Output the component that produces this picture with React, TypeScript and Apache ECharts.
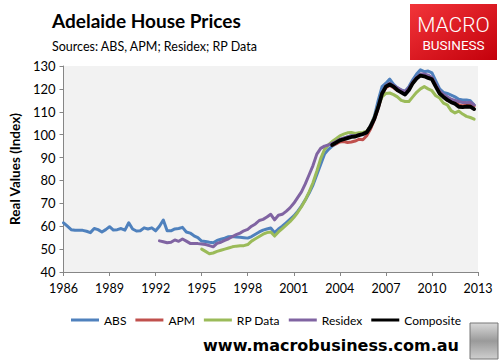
import React, { useEffect, useRef } from "react";
import * as echarts from "echarts";

const START_YEAR = 1986;
const X_TICKS = [1986, 1989, 1992, 1995, 1998, 2001, 2004, 2007, 2010, 2013];

// Quarterly values starting 1986 Q1 (index 0); null = no data
const ABS: (number | null)[] = [
  61.5, 60, 58.5, 58.2, 58.2, 58.2, 57.8, 57.2, 59, 58.5, 57.5, 58.5, 59.8, 58.3, 58.5, 59,
  58.3, 61.5, 58.8, 57.9, 58, 59.3, 58.8, 59.3, 58, 60, 62.7, 58, 58, 58.8, 59, 59.5,
  57.5, 57, 55.8, 55, 53.5, 53.3, 53, 52.8, 53.8, 54.3, 54.8, 55.4, 55.5, 55.3, 55.2, 55,
  54.8, 55.5, 56.5, 57.5, 58.3, 58.8, 59.2, 57.2, 58.8, 60, 61.5, 63, 64.5, 66.5, 68.8, 71.5,
  74.5, 78, 82.5, 87, 91.5, 93.5, 95, 96, 97.5, 98.5, 99, 99.5, 99.5, 100, 100, 101,
  104, 108, 115, 121, 122.5, 124.3, 122, 120.5, 119.5, 119, 121, 124, 126.5, 128.3, 127.5, 127.8,
  127, 123.5, 120, 118.5, 118, 117.3, 116.5, 115.5, 115.2, 115.2, 114.8, 113,
];

const APM_START = 70;
const APM: number[] = [
  95.3, 96, 96.8, 97, 96.6, 96.8, 97.2, 98, 97.8, 99.5, 102.5, 106.5, 111.5, 117.5, 120.5, 121.5,
  120.5, 119.3, 118.8, 118, 120, 122.5, 124.8, 126, 125.5, 125.5, 124.5, 121.5, 118.5, 116.5, 115, 114.5,
  114, 113, 112.5, 113, 113.5, 112.5,
];

const RP_START = 36;
const RP_DATA: number[] = [
  50, 49, 48, 48.3, 49, 49.5, 50, 50.5, 51, 51.3, 51.5, 51.5, 52, 53.5, 54.5, 55.5,
  56.5, 57.2, 57.5, 55.7, 57.5, 59, 60.5, 62, 63.8, 66, 68.5, 71.5, 75, 79, 84, 89.5,
  93.5, 95.5, 97, 98.2, 99.5, 100.2, 100.8, 101, 100.5, 100.8, 101, 101.5, 104, 107.5, 112.5, 116.5,
  118, 118.2, 117.5, 116.5, 115, 114.5, 114.5, 116.5, 118.5, 120, 121, 120, 119.2, 117, 116, 113.8,
  113, 110.5, 109.5, 110.3, 109, 108, 107.5, 106.8,
];

const RESIDEX_START = 25;
const RESIDEX: number[] = [
  53.6, 53.2, 52.8, 53, 54, 53.4, 54.4, 53.5, 52.5, 52.5, 52.4, 52.2, 52, 51.5, 51, 52.5,
  53, 53.8, 54.5, 55.5, 56.3, 57, 58, 58.6, 60, 61, 62.5, 63, 64, 65.2, 62.8, 64.8,
  65.2, 66.5, 68, 70, 72.5, 75, 78.5, 82.5, 86.5, 91.5, 94, 95, 95.5, 96.2, 97, 98,
  98.5, 99, 99.5, 99.5, 100, 100.2, 101, 104, 107, 112, 118, 121.5, 122.5, 121.5, 120.5, 119.5,
  118.8, 120.5, 123, 125, 126.5, 126.5, 126, 125, 122, 119, 117.5, 116.5, 115.5, 115, 114.5, 114,
  114, 114.2, 113,
];

const COMPOSITE_START = 70;
const COMPOSITE: number[] = [
  95.5, 96.5, 97.5, 98, 98.5, 99, 99.2, 99.8, 100.3, 101, 103.5, 107, 112, 118, 121, 122,
  121, 119.5, 118.5, 117.5, 119.5, 122.5, 124.5, 125.8, 125.5, 124.8, 124.2, 121, 118, 116.5, 115.2, 114.2,
  113.5, 112.2, 112, 112.3, 112.2, 111.2,
];

const SERIES_NAMES = ["ABS", "APM", "RP Data", "Residex", "Composite"];
const COLORS = ["#4f81bd", "#c0504d", "#9bbb59", "#8064a2", "#000000"];

function toPairs(values: (number | null)[], startIndex: number) {
  return values.map((v, k) => [START_YEAR + (startIndex + k) / 4, v]);
}

export default function App() {
  const ref = useRef<HTMLDivElement>(null);

  useEffect(() => {
    if (!ref.current) return;
    const chart = echarts.init(ref.current, null, { renderer: "svg" });
    const datasets = [
      toPairs(ABS, 0),
      toPairs(APM, APM_START),
      toPairs(RP_DATA, RP_START),
      toPairs(RESIDEX, RESIDEX_START),
      toPairs(COMPOSITE, COMPOSITE_START),
    ];
    const font = "Lato, 'Liberation Sans', sans-serif";
    chart.setOption({
      animation: false,
      backgroundColor: "#ffffff",
      grid: {
        left: 58,
        right: 26,
        top: 66,
        bottom: 91,
        show: true,
        backgroundColor: "#f2f2f2",
        borderWidth: 0,
      },
      xAxis: {
        type: "value",
        min: 1986,
        max: 2013,
        interval: 3,
        axisLine: { show: true, onZero: false, lineStyle: { color: "#868686", width: 1 } },
        axisTick: { show: true, length: 4, lineStyle: { color: "#868686" } },
        splitLine: { show: false },
        axisLabel: {
          color: "#000",
          fontSize: 12.5,
          fontFamily: font,
          margin: 10,
          formatter: (v: number) => (X_TICKS.includes(v) ? String(v) : ""),
        },
      },
      yAxis: {
        type: "value",
        min: 40,
        max: 130,
        interval: 10,
        name: "Real Values (Index)",
        nameLocation: "middle",
        nameGap: 40,
        nameRotate: 90,
        nameTextStyle: { color: "#000", fontSize: 13.5, fontWeight: "bold", fontFamily: font },
        axisLine: { show: true, lineStyle: { color: "#868686", width: 1 } },
        axisTick: { show: true, length: 4, lineStyle: { color: "#868686" } },
        splitLine: { show: false },
        axisLabel: { color: "#000", fontSize: 13, fontFamily: font, margin: 8 },
      },
      legend: {
        left: 66,
        top: 309,
        itemWidth: 28,
        itemHeight: 3,
        itemGap: 9,
        icon: "rect",
        textStyle: { color: "#000", fontSize: 12, fontFamily: font },
        data: SERIES_NAMES,
      },
      series: SERIES_NAMES.map((name, k) => ({
        name,
        type: "line",
        data: datasets[k],
        showSymbol: false,
        symbol: "none",
        connectNulls: false,
        lineStyle: { color: COLORS[k], width: k === 4 ? 3.8 : 3, join: "round", cap: "round" },
        itemStyle: { color: COLORS[k] },
        z: 2 + k,
      })),
      graphic: [
        {
          type: "text",
          left: 52,
          top: 11,
          style: { text: "Adelaide House Prices", fontSize: 19, fontWeight: "bold", fontFamily: font, fill: "#000" },
        },
        {
          type: "text",
          left: 52,
          top: 40,
          style: { text: "Sources: ABS, APM; Residex; RP Data", fontSize: 12.5, fontFamily: font, fill: "#000" },
        },
        {
          type: "rect",
          shape: { x: 410, y: 4, width: 87, height: 56 },
          style: {
            fill: new echarts.graphic.LinearGradient(0, 0, 1, 1, [
              { offset: 0, color: "#f2353a" },
              { offset: 1, color: "#c4000b" },
            ]),
          },
        },
        {
          type: "text",
          x: 453.5,
          y: 25,
          style: {
            text: "MACRO",
            fontSize: 21,
            fontWeight: 300,
            fontFamily: "Roboto, sans-serif",
            fill: "#ffffff",
            align: "center",
            verticalAlign: "middle",
          },
        },
        {
          type: "text",
          x: 453.5,
          y: 45,
          style: {
            text: "BUSINESS",
            fontSize: 13.5,
            fontFamily: "Roboto, sans-serif",
            fill: "#ffffff",
            align: "center",
            verticalAlign: "middle",
          },
        },
        {
          type: "text",
          x: 331,
          y: 345,
          style: {
            text: "www.macrobusiness.com.au",
            fontSize: 16,
            fontWeight: "bold",
            fontFamily: "'DejaVu Sans', sans-serif",
            fill: "#000",
            align: "center",
            verticalAlign: "middle",
          },
        },
        {
          type: "rect",
          shape: { x: 470, y: 323, width: 28, height: 36 },
          style: {
            fill: new echarts.graphic.LinearGradient(0, 0, 0, 1, [
              { offset: 0, color: "#d8d8d8" },
              { offset: 0.5, color: "#9a9a9a" },
              { offset: 1, color: "#cfcfcf" },
            ]),
            stroke: "#777",
            lineWidth: 1,
          },
        },
      ],
    });
    return () => chart.dispose();
  }, []);

  return <div ref={ref} style={{ width: 504, height: 363, position: "absolute", left: 0, top: 0 }} />;
}
